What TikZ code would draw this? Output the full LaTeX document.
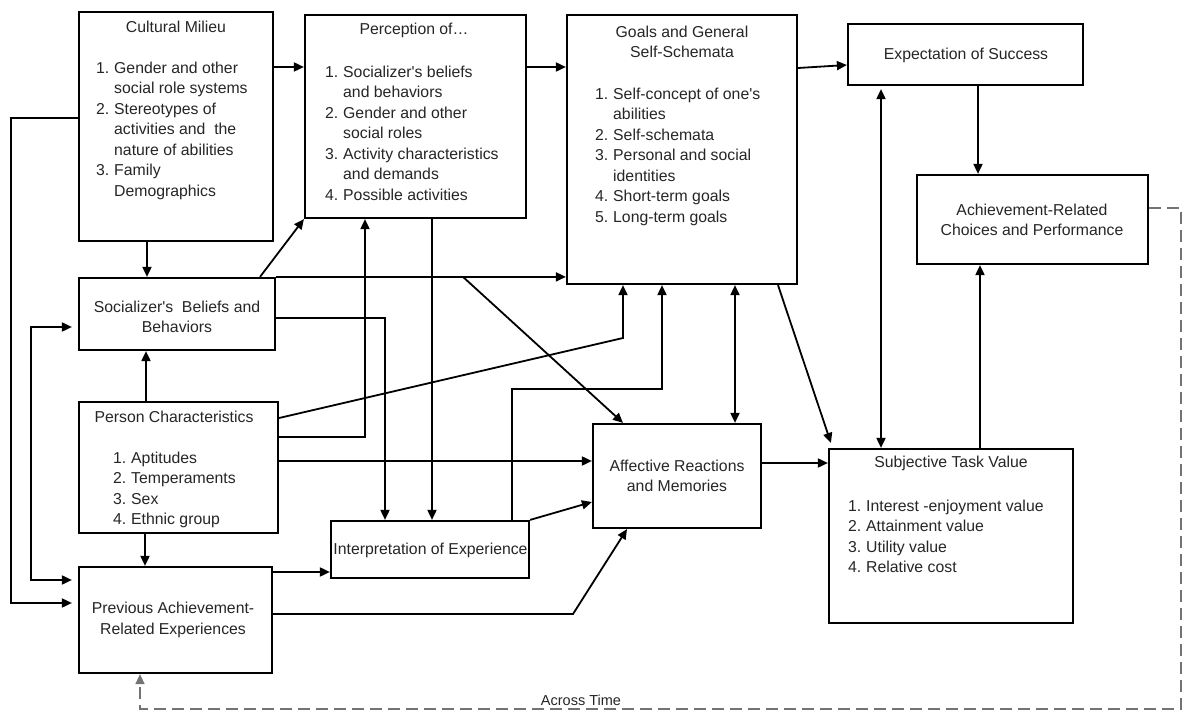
\documentclass[tikz,border=0pt]{standalone}
\usepackage{fontspec}
\setmainfont{Liberation Sans}
\usetikzlibrary{arrows.meta}
\newcommand\myitem[1]{\makebox[18pt][l]{#1}}
\newcommand\myind{\hspace*{18pt}}
\newcommand\apo{\textquotesingle}
\begin{document}
\begin{tikzpicture}[x=1pt,y=-1pt,
  box/.style={draw, line width=2.2pt, inner sep=0pt},
  txt/.style={font=\fontsize{15.8}{20.5}\selectfont, text=black!85, inner sep=0pt, align=left},
  ctxt/.style={font=\fontsize{15.8}{20.5}\selectfont, text=black!85, inner sep=0pt, align=center},
  conn/.style={line width=1.8pt, -{Triangle[length=10pt,width=9pt]}},
  dconn/.style={line width=1.8pt, {Triangle[length=10pt,width=9pt]}-{Triangle[length=10pt,width=9pt]}},
  dashconn/.style={line width=1.4pt, black!55, dash pattern=on 12pt off 6pt, -{Triangle[length=10pt,width=9pt]}}
]
\fill[white] (0,0) rectangle (1184,711);
\useasboundingbox (0,0) rectangle (1184,711);

% boxes
\node[box,minimum width=194pt,minimum height=229pt] (cm) at (176,126.5) {};
\node[box,minimum width=221pt,minimum height=203pt] (per) at (415.5,116.5) {};
\node[box,minimum width=230pt,minimum height=269pt] (goal) at (682,149.5) {};
\node[box,minimum width=235pt,minimum height=61pt] (exp) at (965.5,54.5) {};
\node[box,minimum width=231pt,minimum height=89pt] (ach) at (1032.5,219.5) {};
\node[box,minimum width=196pt,minimum height=72pt] (soc) at (177,314) {};
\node[box,minimum width=199pt,minimum height=131pt] (pc) at (178.5,467.5) {};
\node[box,minimum width=193pt,minimum height=106pt] (prev) at (175.5,620) {};
\node[box,minimum width=198pt,minimum height=57pt] (interp) at (430,549.5) {};
\node[box,minimum width=168pt,minimum height=104pt] (aff) at (677,476) {};
\node[box,minimum width=244pt,minimum height=174pt] (stv) at (951,536) {};

% texts
\node[ctxt] (cmT) at (176,27) {Cultural Milieu};
\node[txt,anchor=north west] (cmL) at (96,61.4) {\myitem{1.}Gender and other\\\myind social role systems\\\myitem{2.}Stereotypes of\\\myind activities and\ \ the\\\myind nature of abilities\\\myitem{3.}Family\\\myind Demographics};

\node[ctxt] (perT) at (414,30) {Perception of…};
\node[txt,anchor=north west] (perL) at (325,65.4) {\myitem{1.}Socializer\apo s beliefs\\\myind and behaviors\\\myitem{2.}Gender and other\\\myind social roles\\\myitem{3.}Activity characteristics\\\myind and demands\\\myitem{4.}Possible activities};

\node[ctxt] (goalT) at (682,42) {Goals and General\\Self-Schemata};
\node[txt,anchor=north west] (goalL) at (595,87.4) {\myitem{1.}Self-concept of one\apo s\\\myind abilities\\\myitem{2.}Self-schemata\\\myitem{3.}Personal and social\\\myind identities\\\myitem{4.}Short-term goals\\\myitem{5.}Long-term goals};

\node[ctxt] (expT) at (966,55) {Expectation of Success};
\node[ctxt] (achT) at (1032,220) {Achievement-Related\\Choices and Performance};
\node[ctxt] (socT) at (177,317) {Socializer\apo s\ \ Beliefs and\\Behaviors};

\node[ctxt] (pcT) at (174,417) {Person Characteristics};
\node[txt,anchor=north west] (pcL) at (113,451.4) {\myitem{1.}Aptitudes\\\myitem{2.}Temperaments\\\myitem{3.}Sex\\\myitem{4.}Ethnic group};

\node[ctxt] (prevT) at (173,620) {Previous Achievement-\\Related Experiences};
\node[ctxt] (interpT) at (430.5,550) {Interpretation of Experience};
\node[ctxt] (affT) at (677,476) {Affective Reactions\\and Memories};

\node[ctxt] (stvT) at (951,463) {Subjective Task Value};
\node[txt,anchor=north west] (stvL) at (848,499.4) {\myitem{1.}Interest -enjoyment value\\\myitem{2.}Attainment value\\\myitem{3.}Utility value\\\myitem{4.}Relative cost};

\node[font=\fontsize{14.5}{17}\selectfont, text=black!85, inner sep=0pt] (time) at (581,700) {Across Time};

% connectors
\draw[conn] (cm.east |- 0,67) -- (per.west |- 0,67);
\draw[conn, shorten >=6pt] (cm.west |- 0,118) -- ++(-67,0) |- (prev.west |- 0,603);
\draw[conn] (cm.south -| 147,0) -- (soc.north -| 147,0);
\draw[conn] (soc.north -| 260,0) -- (per.south west);
\draw[conn] (per.east |- 0,67) -- (goal.west |- 0,67);
\draw[conn] (goal.east |- 0,68) -- (exp.west |- 0,65);
\draw[conn] (exp.south -| 978,0) -- (ach.north -| 978,0);
\draw[conn] (soc.north east) -- (goal.west |- soc.north east);
\draw[conn] (463,0 |- soc.north east) -- (aff.north -| 623,0);
\draw[conn] (soc.east |- 0,318) -| (interp.north -| 385,0);
\draw[conn] (pc.east |- 0,437) -| (per.south -| 365,0);
\draw[conn] (pc.east |- 0,418) -- (623,338) -- (goal.south -| 623,0);
\draw[conn] (pc.east |- 0,461) -- (aff.west |- 0,461);
\draw[conn] (pc.north -| 146,0) -- (soc.south -| 146,0);
\draw[conn] (pc.south -| 145,0) -- (prev.north -| 145,0);
\draw[dconn, shorten <=6pt, shorten >=6pt] (prev.west |- 0,580) -- ++(-47,0) |- (soc.west |- 0,327);
\draw[conn] (prev.east |- 0,572) -- (interp.west |- 0,572);
\draw[conn] (prev.east |- 0,614) -- (573,614) -- (aff.south -| 627,0);
\draw[conn] (per.south -| 432,0) -- (interp.north -| 432,0);
\draw[conn] (interp.north -| 512,0) -- (512,389) -| (goal.south -| 662,0);
\draw[conn] (interp.north east) -- (aff.west |- 0,502);
\draw[dconn] (goal.south -| 735,0) -- (aff.north -| 735,0);
\draw[conn] (goal.south -| 778,0) -- ([shift={(3,-5)}]stv.north west);
\draw[conn] (aff.east |- 0,463) -- (stv.west |- 0,463);
\draw[dconn, shorten <=3pt] (exp.south -| 881,0) -- (stv.north -| 881,0);
\draw[conn] (stv.north -| 980,0) -- (ach.south -| 980,0);
\draw[dashconn] (ach.east |- 0,208) -- ++(32,0) |- (140,709) -- (prev.south -| 140,0);
\end{tikzpicture}
\end{document}
